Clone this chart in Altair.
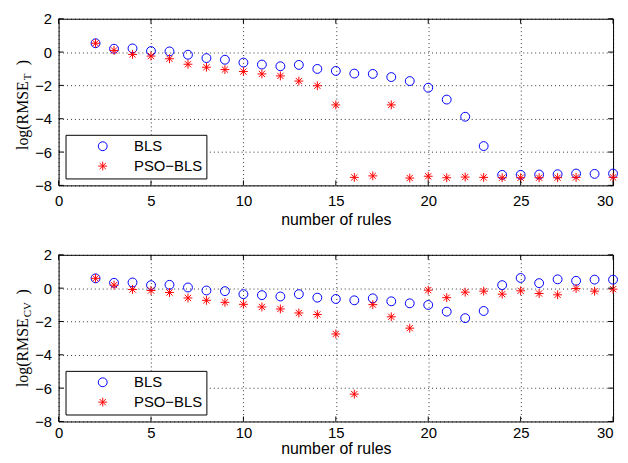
import altair as alt
import pandas as pd

rules = list(range(2, 31))
bls_t = [0.53, 0.20, 0.22, 0.06, 0.04, -0.16, -0.36, -0.46, -0.63, -0.75, -0.85, -0.77, -1.01, -1.13,
         -1.29, -1.31, -1.50, -1.74, -2.14, -2.85, -3.88, -5.64, -7.37, -7.37, -7.35, -7.33, -7.29, -7.31, -7.29]
pso_t = [0.53, 0.10, -0.14, -0.24, -0.40, -0.73, -0.91, -1.05, -1.17, -1.31, -1.43, -1.74, -2.02, -3.17,
         -7.52, -7.43, -3.17, -7.56, -7.45, -7.54, -7.50, -7.52, -7.54, -7.54, -7.54, -7.54, -7.52, None, -7.52]
bls_cv = [0.59, 0.32, 0.34, 0.18, 0.20, 0.04, -0.14, -0.18, -0.36, -0.42, -0.50, -0.36, -0.57, -0.65,
          -0.73, -0.61, -0.79, -0.91, -1.01, -1.41, -1.80, -1.37, 0.18, 0.61, 0.30, 0.53, 0.44, 0.51, 0.51]
pso_cv = [0.59, 0.18, -0.08, -0.14, -0.26, -0.59, -0.73, -0.85, -0.97, -1.13, -1.25, -1.49, -1.58, -2.75,
          -6.36, -0.99, -1.72, -2.40, -0.12, -0.57, -0.24, -0.18, -0.36, -0.16, -0.32, -0.40, -0.02, -0.18, -0.06]

methods = ["BLS", "PSO\u2212BLS"]
x_ticks = [0, 5, 10, 15, 20, 25, 30]
y_ticks = [-8, -6, -4, -2, 0, 2]

W, H = 559, 168
STAR = "M0,-1L0,1M-1,0L1,0M-0.7,-0.7L0.7,0.7M-0.7,0.7L0.7,-0.7"
SANS = "Liberation Sans"
SERIF = "Liberation Serif"


def long_df(a, b):
    rows = []
    for r, v in zip(rules, a):
        if v is not None:
            rows.append({"rules": r, "val": v, "method": methods[0]})
    for r, v in zip(rules, b):
        if v is not None:
            rows.append({"rules": r, "val": v, "method": methods[1]})
    return pd.DataFrame(rows)


def panel(a, b, sub, sub_len, anchor, lab_pad, title_pad):
    df = long_df(a, b)
    xs = alt.Scale(domain=[0, 30], nice=False, zero=False)
    ys = alt.Scale(domain=[-8, 2], nice=False, zero=False)
    xa = alt.Axis(values=x_ticks, title="number of rules", grid=True, labelOverlap=False,
                  labelFlush=False, labelPadding=lab_pad, titlePadding=title_pad,
                  labelAlign={"condition": {"test": "datum.value == 30", "value": "right"},
                              "value": "center"})
    ya = alt.Axis(values=y_ticks, title=None, grid=True, labelOverlap=False, labelFlush=False,
                  labelPadding=7)
    leg = alt.Legend(title=None, orient="bottom-left", offset=7, strokeColor="black",
                     fillColor="white", padding=4, labelFont=SANS, labelFontSize=15,
                     labelColor="black", symbolOffset=26, labelOffset=24, rowPadding=4,
                     symbolSize=80, symbolStrokeWidth=1, cornerRadius=0)
    pts = alt.Chart(df).mark_point(filled=False, size=80, strokeWidth=1, opacity=1).encode(
        x=alt.X("rules:Q", scale=xs, axis=xa),
        y=alt.Y("val:Q", scale=ys, axis=ya),
        color=alt.Color("method:N", scale=alt.Scale(domain=methods, range=["#0000ff", "#ff0000"]),
                        legend=leg),
        shape=alt.Shape("method:N", scale=alt.Scale(domain=methods, range=["circle", STAR]),
                        legend=leg),
    )
    xt = pd.DataFrame({"rules": x_ticks})
    yt = pd.DataFrame({"val": y_ticks})
    tb = alt.Chart(xt).mark_rule(color="black", strokeWidth=1).encode(
        x=alt.X("rules:Q", scale=xs, axis=xa), y=alt.value(H), y2=alt.value(H - 5))
    tt = alt.Chart(xt).mark_rule(color="black", strokeWidth=1).encode(
        x=alt.X("rules:Q", scale=xs, axis=xa), y=alt.value(0), y2=alt.value(5))
    tl = alt.Chart(yt).mark_rule(color="black", strokeWidth=1).encode(
        y=alt.Y("val:Q", scale=ys, axis=ya), x=alt.value(0), x2=alt.value(5))
    tr = alt.Chart(yt).mark_rule(color="black", strokeWidth=1).encode(
        y=alt.Y("val:Q", scale=ys, axis=ya), x=alt.value(W), x2=alt.value(W - 5))
    one = pd.DataFrame({"a": [0]})
    bx = -31
    t1 = alt.Chart(one).mark_text(angle=270, align="right", baseline="alphabetic", font=SERIF,
                                  fontSize=16, color="black", text="log(RMSE").encode(
        x=alt.value(bx), y=alt.value(anchor))
    t2 = alt.Chart(one).mark_text(angle=270, align="left", baseline="alphabetic", font=SERIF,
                                  fontSize=11, color="black", text=sub, dy=3).encode(
        x=alt.value(bx), y=alt.value(anchor - 1))
    t3 = alt.Chart(one).mark_text(angle=270, align="left", baseline="alphabetic", font=SERIF,
                                  fontSize=16, color="black", text=")").encode(
        x=alt.value(bx), y=alt.value(anchor - 1 - sub_len - 8))
    return alt.layer(pts, tb, tt, tl, tr, t1, t2, t3).properties(width=W, height=H)


top = panel(bls_t, pso_t, "T", 7, 63, 8, 3)
bot = panel(bls_cv, pso_cv, "CV", 15, 64, 4, 0)

chart = alt.vconcat(top, bot, spacing=19).resolve_scale(
    color="independent", shape="independent").resolve_legend(
    color="independent", shape="independent").properties(
    padding={"left": 6, "top": 1, "right": 0, "bottom": -1}
).configure_view(stroke="black", strokeWidth=1).configure_axis(
    domain=False, ticks=False, grid=True, gridColor="black", gridDash=[1, 3], gridWidth=0.8,
    gridOpacity=1, labelFont=SANS, labelFontSize=15, labelColor="black",
    titleFont=SANS, titleFontSize=16, titleFontWeight="normal", titleColor="black"
)

chart.save("out.html", embed_options={"renderer": "svg", "actions": False})
